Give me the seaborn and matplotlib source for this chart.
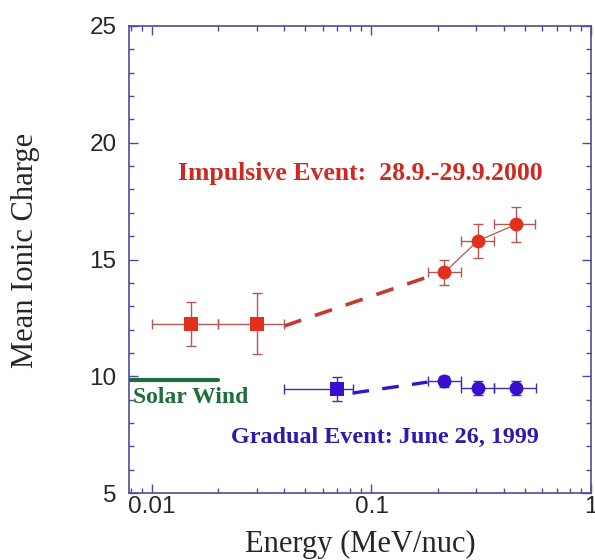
import numpy as np
import pandas as pd
import seaborn as sns
import matplotlib.pyplot as plt
from matplotlib.ticker import LogLocator, MultipleLocator, FixedFormatter, FixedLocator

# Impulsive event (28.9.-29.9.2000)
imp_sq_x = [0.015, 0.030]
imp_sq_y = [12.25, 12.25]
imp_sq_yerr = [0.95, 1.3]
imp_sq_xlo = [0.010, 0.020]
imp_sq_xhi = [0.020, 0.040]

imp_ci_x = [0.215, 0.305, 0.455]
imp_ci_y = [14.45, 15.8, 16.5]
imp_ci_yerr = [0.55, 0.72, 0.75]
imp_ci_xlo = [0.180, 0.255, 0.360]
imp_ci_xhi = [0.255, 0.360, 0.555]

# Gradual event (June 26, 1999)
grad_sq_x = [0.070]
grad_sq_y = [9.45]
grad_sq_yerr = [0.5]
grad_sq_xlo = [0.040]
grad_sq_xhi = [0.082]

grad_ci_x = [0.215, 0.305, 0.455]
grad_ci_y = [9.78, 9.48, 9.48]
grad_ci_yerr = [0.25, 0.3, 0.3]
grad_ci_xlo = [0.180, 0.255, 0.360]
grad_ci_xhi = [0.255, 0.360, 0.560]

# dashed links between the two instruments
imp_link_x = [0.040, 0.180]
imp_link_y = [12.15, 14.25]
grad_link_x = [0.082, 0.180]
grad_link_y = [9.28, 9.75]

# solar wind reference
sw_x = [0.0079, 0.020]
sw_y = [9.85, 9.85]

RED = '#e2301c'
RED_ERR = '#b05a55'
RED_DASH = '#c43a30'
BLUE = '#3a10d0'
BLUE_ERR = '#3a30a8'
GREEN = '#1e6e3c'
SPINE = '#4b4b9c'

sns.set_style("ticks")
plt.rcParams['font.family'] = ['Liberation Sans', 'DejaVu Sans']

fig = plt.figure(figsize=(5.95, 5.6), dpi=100)
ax = fig.add_axes([0.2168, 0.1196, 0.7765, 0.834])


def draw_points(x, y, yerr, xlo, xhi, color, ecolor, marker, size):
    x = np.array(x)
    xerr = [x - np.array(xlo), np.array(xhi) - x]
    ax.errorbar(x, y, yerr=yerr, xerr=xerr, fmt='none', ecolor=ecolor,
                elinewidth=1.0, capsize=3.5, capthick=1.0, zorder=3)
    df = pd.DataFrame({'x': x, 'y': y})
    sns.scatterplot(data=df, x='x', y='y', color=color, marker=marker, s=size,
                    edgecolor=color, linewidth=0, ax=ax, zorder=4)


# thin connecting lines
sns.lineplot(x=imp_ci_x, y=imp_ci_y, color=RED_ERR, lw=0.9, ax=ax, zorder=2,
             sort=False)
sns.lineplot(x=imp_link_x, y=imp_link_y, color=RED_DASH, lw=2.6, ax=ax,
             zorder=2, sort=False)
ax.lines[-1].set_dashes([5, 4])
sns.lineplot(x=grad_link_x, y=grad_link_y, color=BLUE, lw=2.4, ax=ax,
             zorder=2, sort=False)
ax.lines[-1].set_dashes([5, 4])
sns.lineplot(x=sw_x, y=sw_y, color=GREEN, lw=3.0, ax=ax, zorder=2, sort=False)

draw_points(imp_sq_x, imp_sq_y, imp_sq_yerr, imp_sq_xlo, imp_sq_xhi,
            RED, RED_ERR, 's', 90)
draw_points(imp_ci_x, imp_ci_y, imp_ci_yerr, imp_ci_xlo, imp_ci_xhi,
            RED, RED_ERR, 'o', 100)
draw_points(grad_sq_x, grad_sq_y, grad_sq_yerr, grad_sq_xlo, grad_sq_xhi,
            BLUE, BLUE_ERR, 's', 90)
draw_points(grad_ci_x, grad_ci_y, grad_ci_yerr, grad_ci_xlo, grad_ci_xhi,
            BLUE, BLUE_ERR, 'o', 100)

serif = ['Liberation Serif', 'DejaVu Serif']
ax.text(0.089, 18.7, 'Impulsive Event:  28.9.-29.9.2000', color='#cc2a22',
        fontsize=18.5, fontweight='bold', family=serif, ha='center', va='center')
ax.text(0.1146, 7.4, 'Gradual Event: June 26, 1999', color='#3018b0',
        fontsize=17.4, fontweight='bold', family=serif, ha='center', va='center')
ax.text(0.0082, 9.07, 'Solar Wind', color=GREEN, fontsize=17,
        fontweight='bold', family=serif, ha='left', va='center')

ax.set_xscale('log')
ax.set_xlim(0.00786, 1.0)
ax.set_ylim(5, 25)
ax.xaxis.set_major_locator(FixedLocator([0.01, 0.1, 1.0]))
ax.xaxis.set_major_formatter(FixedFormatter(['0.01', '0.1', '1']))
ax.xaxis.set_minor_locator(LogLocator(base=10, subs=np.arange(2, 10)))
ax.yaxis.set_major_locator(MultipleLocator(5))
ax.yaxis.set_minor_locator(MultipleLocator(1))
ax.tick_params(which='both', direction='in', top=True, right=True,
               color=SPINE, labelsize=17.5, width=1.0)
ax.tick_params(which='major', length=6.5)
ax.tick_params(which='minor', length=3.8)
ax.tick_params(axis='y', which='major', pad=9)
ax.tick_params(axis='x', which='major', pad=2)
for sp in ax.spines.values():
    sp.set_color(SPINE)
    sp.set_linewidth(1.2)

ax.set_xlabel('Energy (MeV/nuc)', family=serif, fontsize=22)
ax.set_ylabel('Mean Ionic Charge', family=serif, fontsize=22)
ax.xaxis.set_label_coords(0.5, -0.078)
ax.yaxis.set_label_coords(-0.193, 0.52)

fig.savefig('out.png', dpi=100)
